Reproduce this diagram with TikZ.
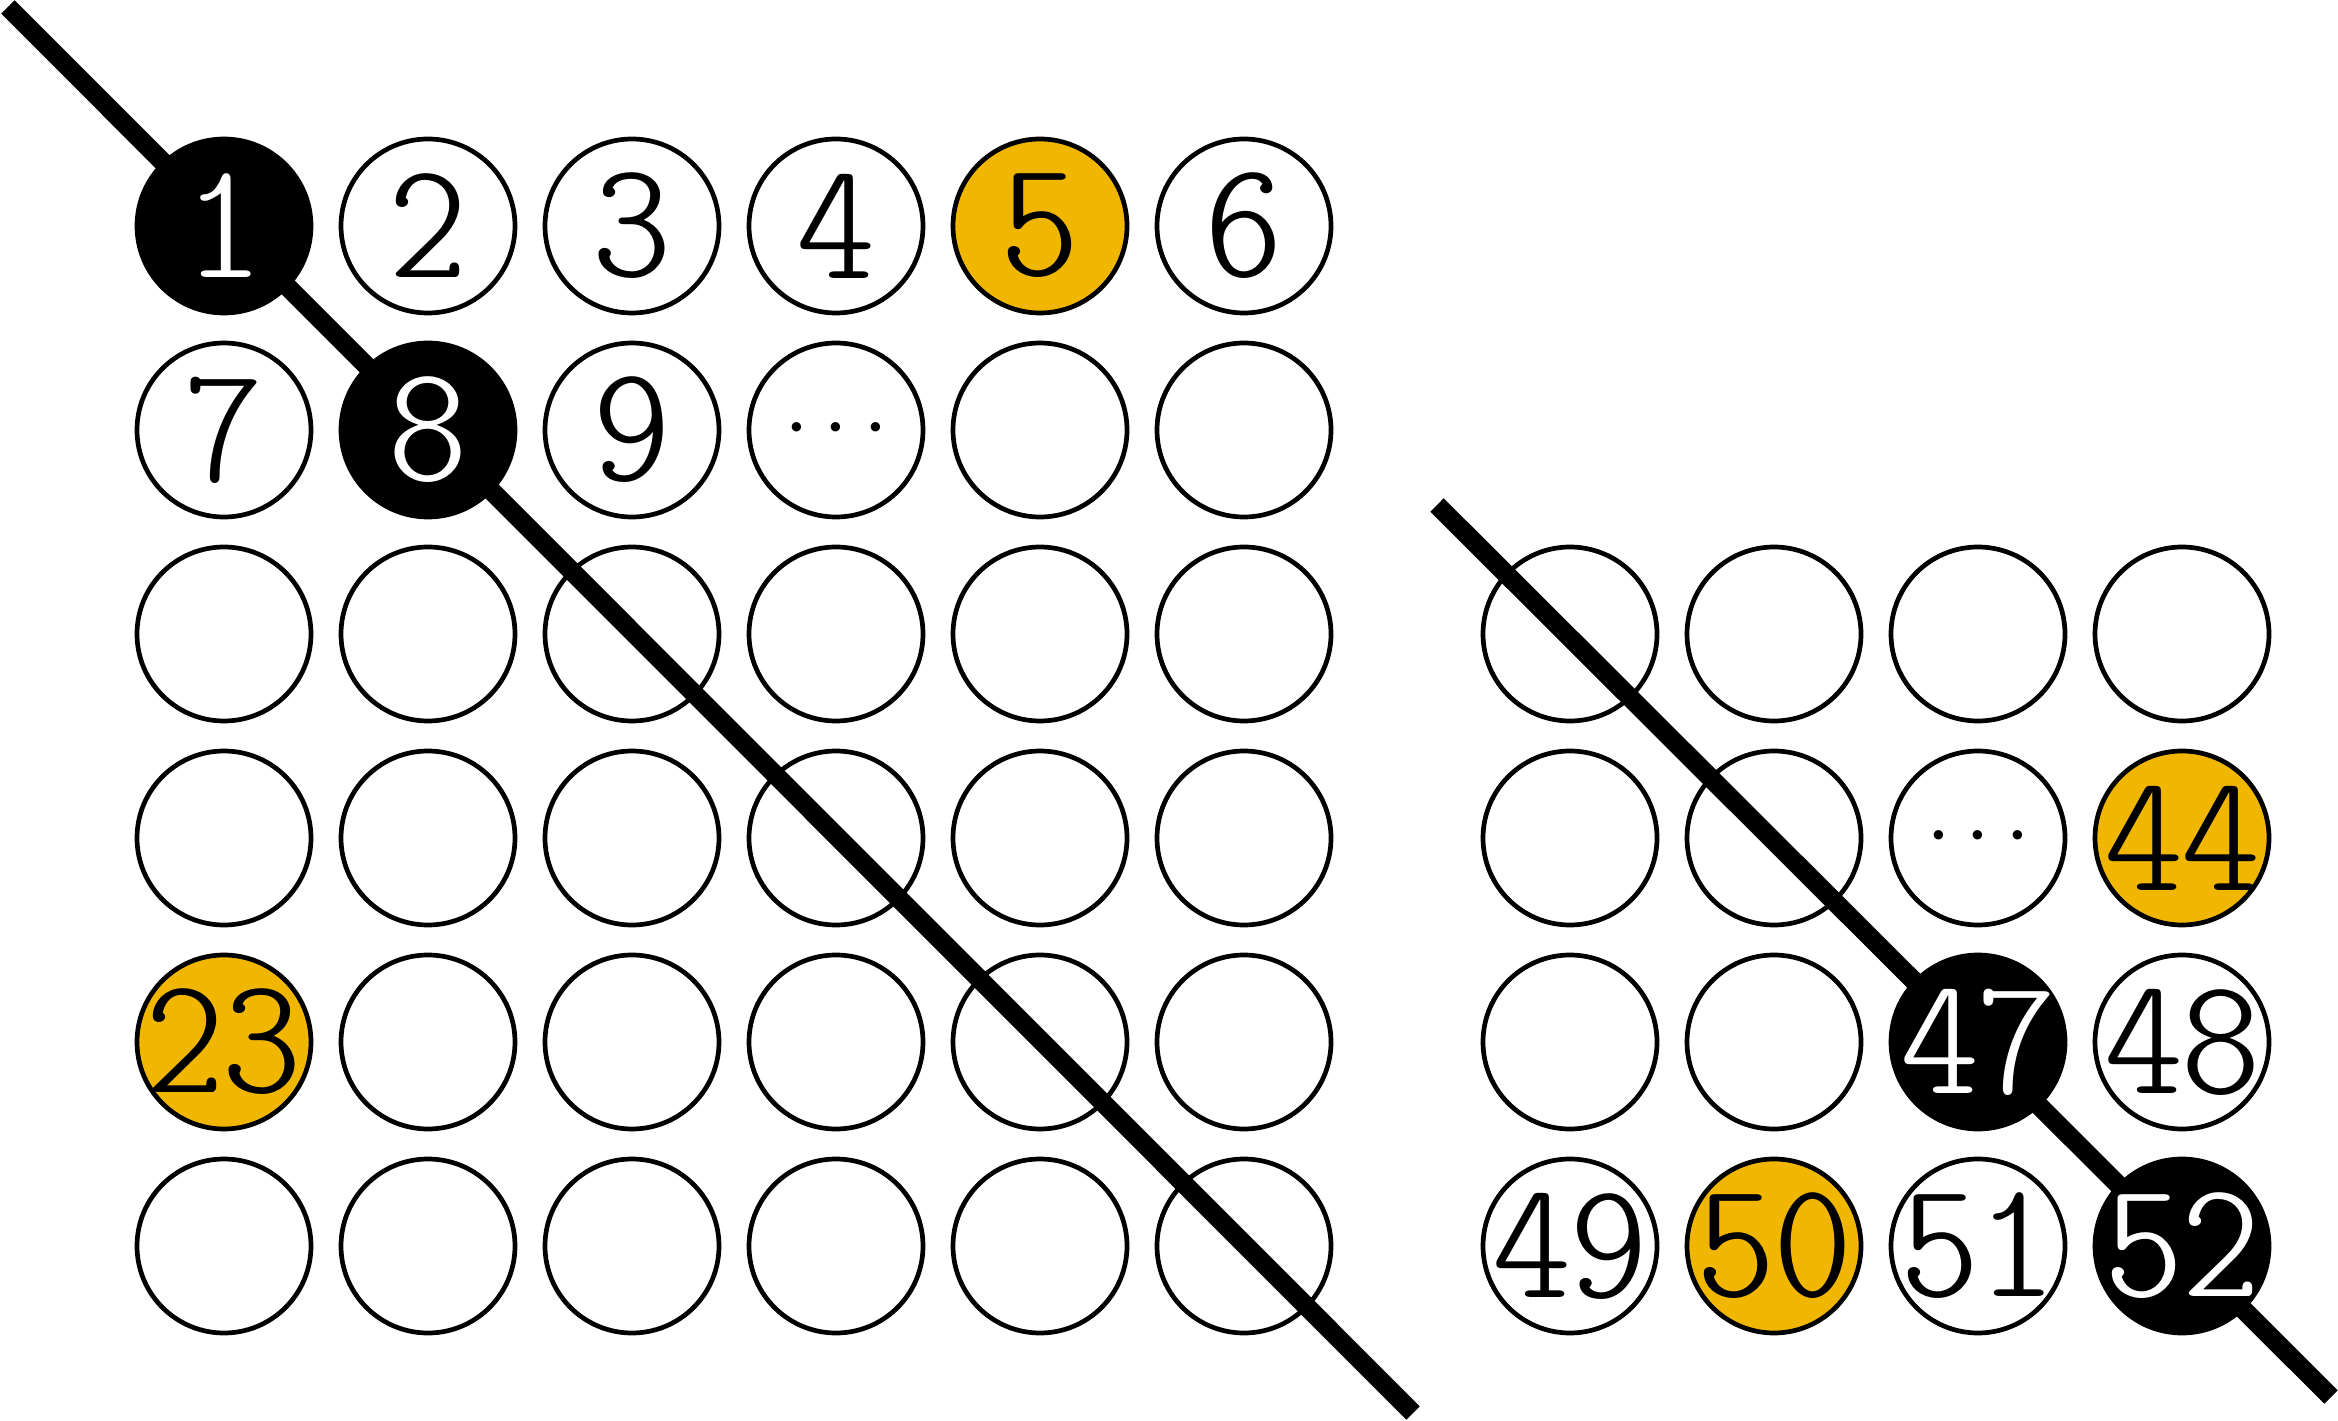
\documentclass[tikz,border=0pt]{standalone}
\definecolor{gold}{RGB}{241,183,0}
\newcommand\digitfont{\fontfamily{lmtt}\fontseries{lc}\fontsize{50}{50}\selectfont}
\newcommand\bigdots{\scalebox{2.67}{$\cdots$}}
\newcommand\lbl[1]{\makebox[0pt]{\scalebox{1.32}[1]{#1}}}
\tikzset{
  ball/.style={circle,draw=black,line width=1.41pt,minimum size=52.2pt,inner sep=0pt,font=\digitfont},
  plainball/.style={ball},
  dotball/.style={ball,font=\normalsize},
  hitball/.style={ball,fill=black,text=white},
  pickball/.style={ball,fill=gold,text=black},
  cutline/.style={line width=5.7pt,line cap=butt}
}
\begin{document}
\begin{tikzpicture}[x=0.3pt,y=-0.3pt]
\useasboundingbox (0,0) rectangle (2338,1421);
% diagonal lines
\coordinate (a1) at (8,7);
\coordinate (a2) at (1413,1413);
\coordinate (b1) at (1437,505);
\coordinate (b2) at (2331,1397);
\draw[cutline] (a1) -- (a2);
\draw[cutline] (b1) -- (b2);
% left grid, empty circles
\foreach \r/\c in {2/5,2/6,
  3/1,3/2,3/3,3/4,3/5,3/6,
  4/1,4/2,4/3,4/4,4/5,4/6,
  5/2,5/3,5/4,5/5,5/6,
  6/1,6/2,6/3,6/4,6/5,6/6}
  \node[plainball] (L-\r-\c) at ({20+204*\c},{22+204*\r}) {};
% left grid, labelled circles
\node[hitball]   (L-1-1) at (224,226) {\lbl{1}};
\node[plainball] (L-1-2) at (428,226) {\lbl{2}};
\node[plainball] (L-1-3) at (632,226) {\lbl{3}};
\node[plainball] (L-1-4) at (836,226) {\lbl{4}};
\node[pickball]  (L-1-5) at (1040,226) {\lbl{5}};
\node[plainball] (L-1-6) at (1244,226) {\lbl{6}};
\node[plainball] (L-2-1) at (224,430) {\lbl{7}};
\node[hitball]   (L-2-2) at (428,430) {\lbl{8}};
\node[plainball] (L-2-3) at (632,430) {\lbl{9}};
\node[dotball]   (L-2-4) at (836,430) {\bigdots};
\node[pickball]  (L-5-1) at (224,1042) {\lbl{23}};
% right grid, empty circles
\foreach \r/\c in {3/1,3/2,3/3,3/4,4/1,4/2,5/1,5/2}
  \node[plainball] (R-\r-\c) at ({1366+204*\c},{22+204*\r}) {};
% right grid, labelled circles
\node[dotball]   (R-4-3) at (1978,838) {\bigdots};
\node[pickball]  (R-4-4) at (2182,838) {\lbl{44}};
\node[hitball]   (R-5-3) at (1978,1042) {\lbl{47}};
\node[plainball] (R-5-4) at (2182,1042) {\lbl{48}};
\node[plainball] (R-6-1) at (1570,1246) {\lbl{49}};
\node[pickball]  (R-6-2) at (1774,1246) {\lbl{50}};
\node[plainball] (R-6-3) at (1978,1246) {\lbl{51}};
\node[hitball]   (R-6-4) at (2182,1246) {\lbl{52}};
\end{tikzpicture}
\end{document}
